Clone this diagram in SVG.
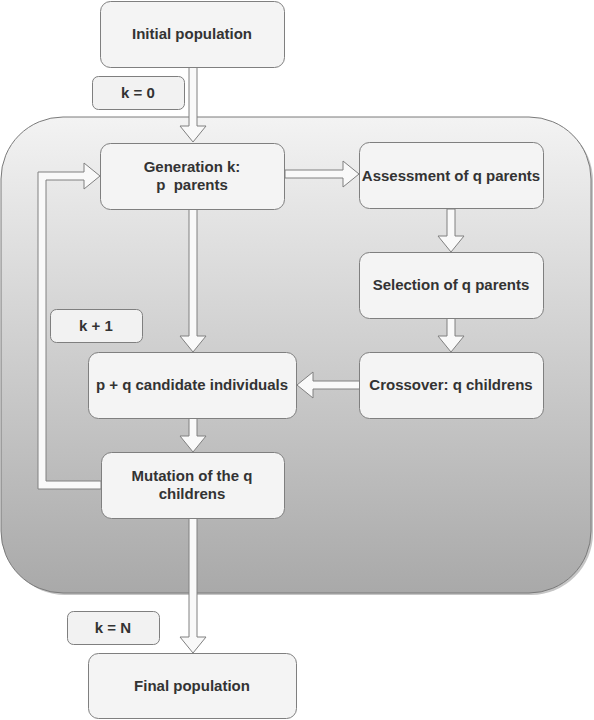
<svg xmlns="http://www.w3.org/2000/svg" width="594" height="720" viewBox="0 0 594 720">
<defs>
<linearGradient id="bg" x1="0" y1="0" x2="0" y2="1">
<stop offset="0" stop-color="#f3f3f3"/>
<stop offset="1" stop-color="#a9a9a9"/>
</linearGradient>
<style>
.node{fill:#f4f4f4;stroke:#7f7f7f;stroke-width:1}
.lbl{fill:#f2f2f2;stroke:#7f7f7f;stroke-width:1}
.arr{fill:#f9f9f9;stroke:#808080;stroke-width:1;stroke-linejoin:miter}
text{font-family:"Liberation Sans",Arial,sans-serif;font-weight:bold;font-size:15px;fill:#333333;text-anchor:middle;white-space:pre}
</style>
</defs>
<rect width="594" height="720" fill="#ffffff"/>
<g id="container">
<rect x="3" y="119" width="590" height="476" rx="62" ry="62" fill="#8c8c8c" opacity="0.5"/>
<rect x="1" y="117" width="590" height="476" rx="62" ry="62" fill="url(#bg)" stroke="#7a7a7a" stroke-width="1"/>
</g>
<g id="connectors">
<path class="arr" d="M189,67 L197,67 L197,126 L206,126 L193,142 L180,126 L189,126 Z"/>
<path class="arr" d="M285,170 L343,170 L343,161 L359,174 L343,187 L343,178 L285,178 Z"/>
<path class="arr" d="M447,209 L455,209 L455,236 L464,236 L451,252 L438,236 L447,236 Z"/>
<path class="arr" d="M447,318 L455,318 L455,336 L464,336 L451,352 L438,336 L447,336 Z"/>
<path class="arr" d="M360,381 L313,381 L313,372 L297,385 L313,398 L313,389 L360,389 Z"/>
<path class="arr" d="M189,209 L197,209 L197,336 L206,336 L193,352 L180,336 L189,336 Z"/>
<path class="arr" d="M189,418 L197,418 L197,436 L206,436 L193,452 L180,436 L189,436 Z"/>
<path class="arr" d="M189,518 L197,518 L197,637 L206,637 L193,653 L180,637 L189,637 Z"/>
<path class="arr" d="M101,489 L38,489 L38,172 L84,172 L84,163 L100,176 L84,189 L84,180 L46,180 L46,481 L101,481 Z"/>
</g>
<g id="initial">
<rect class="node" x="100.5" y="1.5" width="184" height="66" rx="10"/>
<text x="192" y="39">Initial population</text>
</g>
<g id="k0">
<rect class="lbl" x="92.5" y="76.5" width="92" height="33" rx="6"/>
<text x="138" y="98">k = 0</text>
</g>
<g id="generation">
<rect class="node" x="100.5" y="143.5" width="184" height="66" rx="10"/>
<text x="192" y="172">Generation k:</text>
<text x="192" y="190">p  parents</text>
</g>
<g id="assessment">
<rect class="node" x="359.5" y="142.5" width="184" height="66" rx="10"/>
<text x="451" y="181">Assessment of q parents</text>
</g>
<g id="selection">
<rect class="node" x="359.5" y="252.5" width="184" height="66" rx="10"/>
<text x="451" y="290">Selection of q parents</text>
</g>
<g id="crossover">
<rect class="node" x="359.5" y="352.5" width="184" height="66" rx="10"/>
<text x="451" y="390">Crossover: q childrens</text>
</g>
<g id="candidates">
<rect class="node" x="88.5" y="352.5" width="208" height="66" rx="10"/>
<text x="192" y="390">p + q candidate individuals</text>
</g>
<g id="kplus1">
<rect class="lbl" x="50.5" y="309.5" width="92" height="33" rx="6"/>
<text x="96" y="331">k + 1</text>
</g>
<g id="mutation">
<rect class="node" x="101.5" y="452.5" width="183" height="66" rx="10"/>
<text x="192" y="481">Mutation of the q</text>
<text x="192" y="499">childrens</text>
</g>
<g id="kN">
<rect class="lbl" x="67.5" y="611.5" width="92" height="33" rx="6"/>
<text x="113" y="633">k = N</text>
</g>
<g id="final">
<rect class="node" x="88.5" y="653.5" width="208" height="65" rx="10"/>
<text x="192" y="691">Final population</text>
</g>
</svg>
